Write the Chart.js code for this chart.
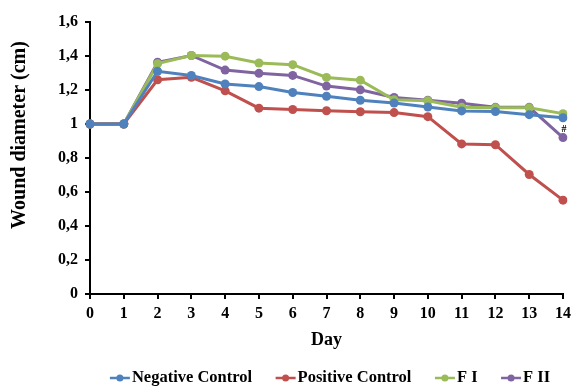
<!DOCTYPE html>
<html>
<head>
<meta charset="utf-8">
<script src="https://cdn.jsdelivr.net/npm/chart.js@4/dist/chart.umd.min.js"></script>
<style>
  html, body { margin: 0; padding: 0; background: #fff; }
</style>
</head>
<body>
<canvas id="woundChart" width="576" height="388"></canvas>
<script>
// data
var days = ['0', '1', '2', '3', '4', '5', '6', '7', '8', '9', '10', '11', '12', '13', '14'];
var negativeControl = [1, 1, 1.31, 1.285, 1.235, 1.22, 1.185, 1.163, 1.14, 1.123, 1.1, 1.077, 1.073, 1.055, 1.037];
var positiveControl = [1, 1, 1.26, 1.275, 1.195, 1.093, 1.085, 1.078, 1.072, 1.067, 1.043, 0.883, 0.878, 0.703, 0.552];
var fI = [1, 1, 1.355, 1.403, 1.399, 1.359, 1.349, 1.274, 1.258, 1.142, 1.137, 1.098, 1.095, 1.095, 1.061];
var fII = [1, 1, 1.363, 1.403, 1.317, 1.298, 1.286, 1.223, 1.201, 1.156, 1.14, 1.122, 1.098, 1.098, 0.92];
var yTicks = [0, 0.2, 0.4, 0.6, 0.8, 1, 1.2, 1.4, 1.6];

var serif = 'Liberation Serif';

function makeSet(label, data, color) {
    return {
        label: label,
        data: data,
        borderColor: color,
        backgroundColor: color,
        borderWidth: 3,
        pointRadius: 4.5,
        pointHoverRadius: 4.5,
        pointBackgroundColor: color,
        pointBorderWidth: 0,
        pointStyle: 'circle',
        tension: 0
    };
}

// "#" marker above last F II point
var hashMark = {
    id: 'hashMark',
    afterDatasetsDraw: function(chart) {
        var ctx = chart.ctx;
        var x = chart.scales.x.getPixelForValue(14);
        var y = chart.scales.y.getPixelForValue(fII[14]);
        ctx.save();
        ctx.fillStyle = '#000';
        ctx.font = 'bold 10px ' + serif;
        ctx.textAlign = 'center';
        ctx.textBaseline = 'middle';
        ctx.fillText('#', x + 1, y - 8);
        ctx.restore();
    }
};

// y title sits a bit above the axis middle in the original
var yTitle = {
    id: 'yTitle',
    afterDraw: function(chart) {
        var ctx = chart.ctx;
        ctx.save();
        ctx.translate(20, 135);
        ctx.rotate(-Math.PI / 2);
        ctx.fillStyle = '#000';
        ctx.font = 'bold 20px ' + serif;
        ctx.textAlign = 'center';
        ctx.textBaseline = 'middle';
        ctx.fillText('Wound diameter (cm)', 0, 0);
        ctx.restore();
    }
};

// legend under the plot: line-with-dot symbol then label, one row
var lineLegend = {
    id: 'lineLegend',
    afterDraw: function(chart) {
        var ctx = chart.ctx;
        var sets = chart.data.datasets;
        var symW = 20, symGap = 2, itemGap = 23.5;
        var y = 378;
        ctx.save();
        ctx.font = 'bold 16.5px ' + serif;
        var total = 0;
        sets.forEach(function(ds, i) {
            total += symW + symGap + ctx.measureText(ds.label).width;
            if (i > 0) total += itemGap;
        });
        var x = 330 - total / 2;
        sets.forEach(function(ds) {
            ctx.strokeStyle = ds.borderColor;
            ctx.lineWidth = 2.5;
            ctx.beginPath(); ctx.moveTo(x, y); ctx.lineTo(x + symW, y); ctx.stroke();
            ctx.fillStyle = ds.borderColor;
            ctx.beginPath(); ctx.arc(x + symW / 2, y, 3.5, 0, Math.PI * 2); ctx.fill();
            x += symW + symGap;
            ctx.fillStyle = '#000';
            ctx.textAlign = 'left';
            ctx.textBaseline = 'middle';
            ctx.fillText(ds.label, x, y);
            x += ctx.measureText(ds.label).width + itemGap;
        });
        ctx.restore();
    }
};

var ctx = document.getElementById('woundChart').getContext('2d');
var chart = new Chart(ctx, {
    type: 'line',
    data: {
        labels: days,
        datasets: [
            makeSet('Negative Control', negativeControl, '#4F81BD'),
            makeSet('Positive Control', positiveControl, '#C0504D'),
            makeSet('F I', fI, '#9BBB59'),
            makeSet('F II', fII, '#8064A2')
        ]
    },
    options: {
        responsive: false,
        animation: false,
        layout: { padding: { left: 0, right: 10, top: 22, bottom: 36.5 } },
        scales: {
            x: {
                offset: false,
                grid: { drawOnChartArea: false, color: '#000', lineWidth: 2, tickLength: 5 },
                border: { color: '#000', width: 2 },
                ticks: { color: '#000', font: { family: serif, size: 16, weight: 'bold' }, padding: 5, maxRotation: 0 },
                title: { display: true, text: 'Day', color: '#000', font: { family: serif, size: 18, weight: 'bold' }, padding: { top: 4, bottom: 0 } },
                afterFit: function(scale) { scale.height = 57.5; }
            },
            y: {
                min: 0,
                max: 1.6,
                afterBuildTicks: function(scale) {
                    scale.ticks = yTicks.map(function(v) { return { value: v }; });
                },
                grid: { drawOnChartArea: false, color: '#000', lineWidth: 2, tickLength: 5 },
                border: { color: '#000', width: 2 },
                ticks: {
                    color: '#000',
                    padding: 7,
                    font: { family: serif, size: 16, weight: 'bold' },
                    callback: function(v) { return (Math.round(v * 10) / 10).toString().replace('.', ','); }
                },
                title: { display: false },
                afterFit: function(scale) { scale.width = 90; }
            }
        },
        plugins: {
            legend: { display: false },
            tooltip: { enabled: false }
        }
    },
    plugins: [hashMark, yTitle, lineLegend]
});
</script>
</body>
</html>
